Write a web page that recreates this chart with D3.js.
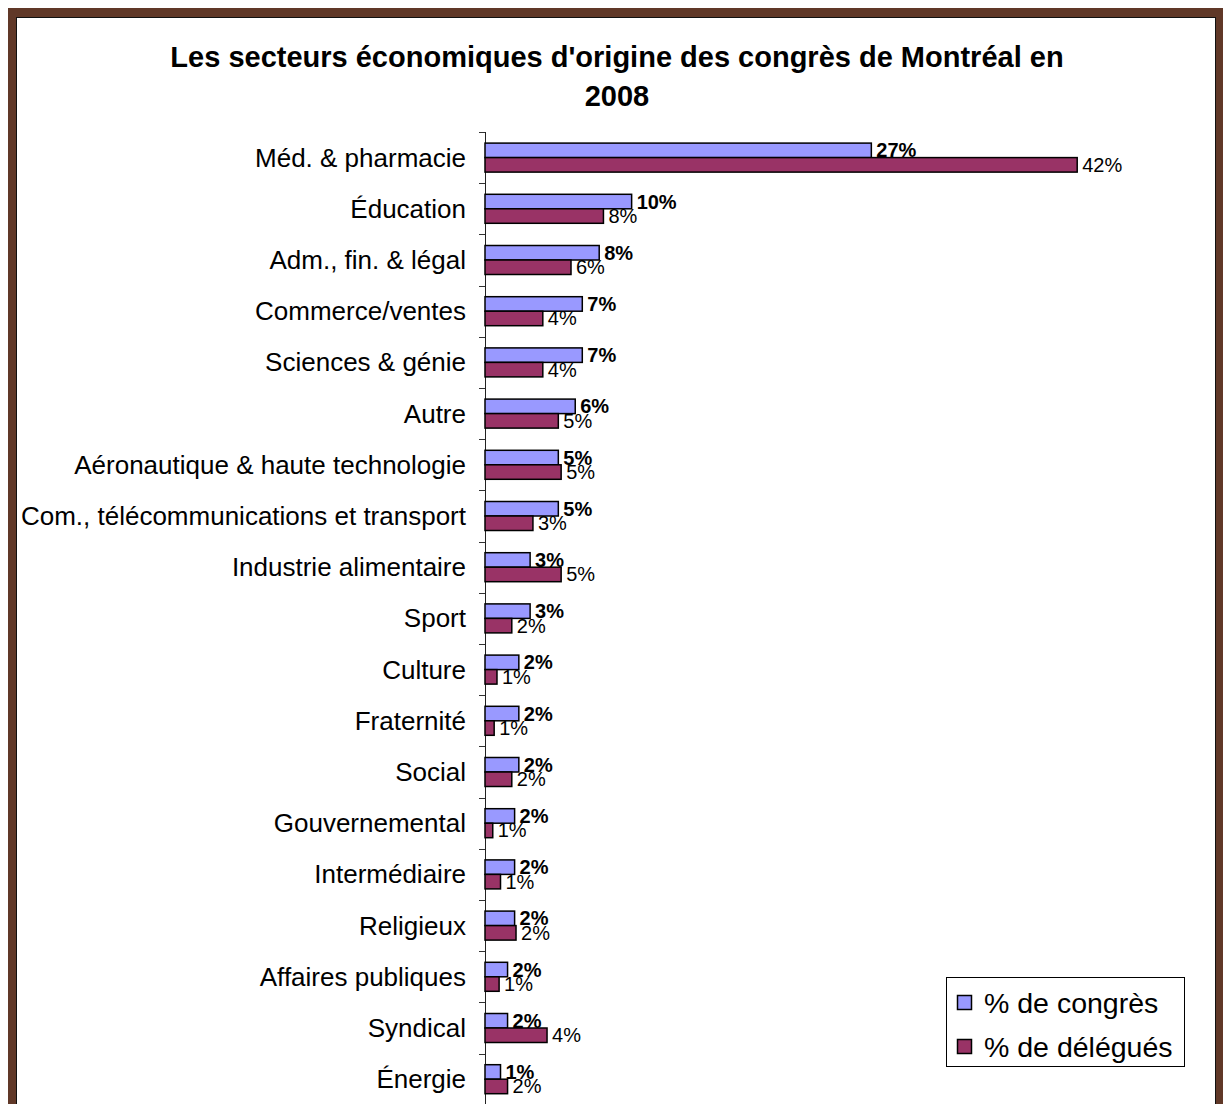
<!DOCTYPE html>
<html>
<head>
<meta charset="utf-8">
<script src="https://cdn.jsdelivr.net/npm/d3@7"></script>
<style>
body { margin: 0; background: #fff; }
text { font-family: "Liberation Sans", Arial, sans-serif; }
</style>
</head>
<body>
<div id="chart-area"></div>
<script>
var categories = ["Méd. & pharmacie", "Éducation", "Adm., fin. & légal", "Commerce/ventes",
    "Sciences & génie", "Autre", "Aéronautique & haute technologie",
    "Com., télécommunications et transport", "Industrie alimentaire", "Sport", "Culture",
    "Fraternité", "Social", "Gouvernemental", "Intermédiaire", "Religieux",
    "Affaires publiques", "Syndical", "Énergie"];
var congres = [27.4, 10.4, 8.1, 6.9, 6.9, 6.4, 5.2, 5.2, 3.2, 3.2, 2.4, 2.4, 2.4, 2.1, 2.1, 2.1, 1.6, 1.6, 1.1];
var delegues = [42, 8.4, 6.1, 4.1, 4.1, 5.2, 5.4, 3.4, 5.4, 1.9, 0.85, 0.65, 1.9, 0.55, 1.1, 2.2, 1.0, 4.4, 1.6];
var seriesNames = ["% de congrès", "% de délégués"];
var colors = ["#9999FF", "#993366"];

var svg = d3.select("#chart-area").append("svg")
    .attr("width", 1223)
    .attr("height", 1104);

// frame
svg.append("rect").attr("x", 0).attr("y", 0).attr("width", 1223).attr("height", 1104).attr("fill", "#fff");
svg.append("rect").attr("x", 8).attr("y", 8).attr("width", 1215).attr("height", 1100).attr("fill", "#603828");
svg.append("rect").attr("x", 16.5).attr("y", 17.5).attr("width", 1199).attr("height", 1100)
    .attr("fill", "#fff").attr("stroke", "#111").attr("stroke-width", 1);

// title
svg.append("text").attr("x", 617).attr("y", 67).attr("text-anchor", "middle")
    .attr("font-size", 29).attr("font-weight", "bold")
    .text("Les secteurs économiques d'origine des congrès de Montréal en");
svg.append("text").attr("x", 617).attr("y", 106).attr("text-anchor", "middle")
    .attr("font-size", 29).attr("font-weight", "bold")
    .text("2008");

var x = d3.scaleLinear().domain([0, 45]).range([485, 485 + 45 * 14.1]);
var y = d3.scaleBand().domain(categories).range([132, 132 + 19 * 51.2]);
var barH = 14.5;
var fmt = function(v) { return Math.round(v) + "%"; };

// axis line and ticks between categories
svg.append("line").attr("x1", 485.5).attr("x2", 485.5).attr("y1", 132).attr("y2", 1104)
    .attr("stroke", "#222").attr("stroke-width", 1);
var edges = categories.map(function(c) { return y(c); });
svg.selectAll(".tick").data(edges).enter().append("line")
    .attr("x1", 479).attr("x2", 485)
    .attr("y1", function(d) { return Math.round(d) + 0.5; })
    .attr("y2", function(d) { return Math.round(d) + 0.5; })
    .attr("stroke", "#333");

// category labels
svg.selectAll(".cat").data(categories).enter().append("text")
    .attr("x", 466).attr("y", function(d) { return y(d) + y.bandwidth() / 2; })
    .attr("text-anchor", "end").attr("dominant-baseline", "central")
    .attr("font-size", 26)
    .text(function(d) { return d; });

// bars
[congres, delegues].forEach(function(vals, s) {
    svg.selectAll(".bar" + s).data(vals).enter().append("rect")
        .attr("x", x(0))
        .attr("y", function(d, i) { return y(categories[i]) + y.bandwidth() / 2 - barH + s * barH; })
        .attr("width", function(d) { return x(d) - x(0); })
        .attr("height", barH)
        .attr("fill", colors[s])
        .attr("stroke", "#000").attr("stroke-width", 1.5);
});

// value labels
[congres, delegues].forEach(function(vals, s) {
    svg.selectAll(".lab" + s).data(vals).enter().append("text")
        .attr("x", function(d) { return x(d) + 5; })
        .attr("y", function(d, i) { return y(categories[i]) + y.bandwidth() / 2 - barH / 2 + s * barH; })
        .attr("dominant-baseline", "central")
        .attr("font-size", 20)
        .attr("font-weight", s === 0 ? "bold" : "normal")
        .text(function(d) { return fmt(d); });
});

// legend
var lg = svg.append("g");
lg.append("rect").attr("x", 946.5).attr("y", 977.5).attr("width", 238).attr("height", 89)
    .attr("fill", "#fff").attr("stroke", "#000");
seriesNames.forEach(function(n, i) {
    lg.append("rect").attr("x", 957.5).attr("y", 995.5 + i * 44).attr("width", 14).attr("height", 14)
        .attr("fill", colors[i]).attr("stroke", "#000").attr("stroke-width", 1.5);
    lg.append("text").attr("x", 984).attr("y", 1003 + i * 44)
        .attr("dominant-baseline", "central").attr("font-size", 28.5)
        .text(n);
});
</script>
</body>
</html>
